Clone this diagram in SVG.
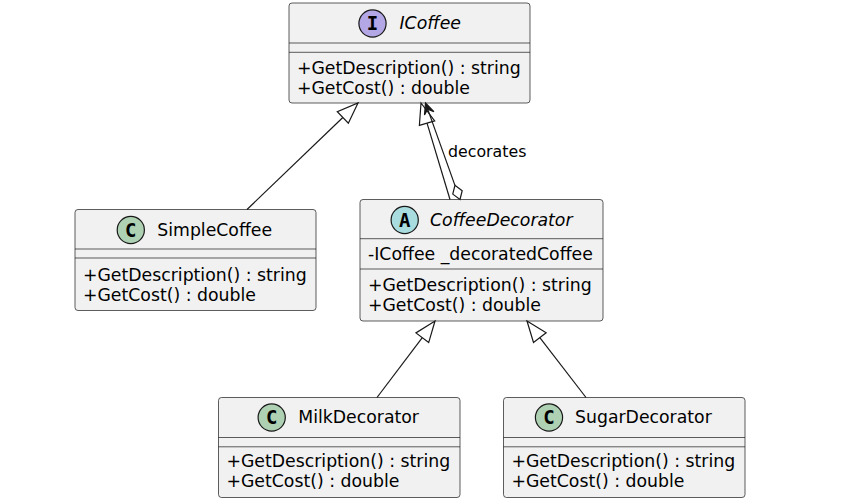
<svg xmlns="http://www.w3.org/2000/svg" width="856" height="503" viewBox="0 0 856 503">
  <style>
    .box { fill: #F1F1F1; stroke: #181818; stroke-width: 0.7; }
    .sep { stroke: #181818; stroke-width: 0.7; }
    .name { font-family: "DejaVu Sans", sans-serif; font-size: 17.3px; fill: #000000; }
    .abs { font-style: italic; }
    .mem { font-family: "DejaVu Sans", sans-serif; font-size: 17.3px; fill: #000000; }
    .badge { stroke: #181818; stroke-width: 1.2; }
    .letter { font-family: "DejaVu Sans Mono", monospace; font-weight: bold; font-size: 19px; text-anchor: middle; fill: #000000; }
    .edge { fill: none; stroke: #181818; stroke-width: 1.2; }
    .tri { fill: #FFFFFF; stroke: #181818; stroke-width: 1.2; }
    .head { fill: #181818; stroke: #181818; stroke-width: 1.2; }
    .lbl { font-family: "DejaVu Sans", sans-serif; font-size: 15.8px; fill: #000000; }
  </style>
  <rect width="856" height="503" fill="#FFFFFF"/>

  <!-- interface ICoffee -->
  <g id="ICoffee">
    <rect class="box" x="289" y="3" width="241" height="100" rx="3"/>
    <circle class="badge" cx="372.5" cy="23.5" r="13.6" fill="#B4A7E5"/>
    <text class="letter" x="372.5" y="30">I</text>
    <text class="name abs" x="399.5" y="28.5">ICoffee</text>
    <line class="sep" x1="289" y1="43" x2="530" y2="43"/>
    <line class="sep" x1="289" y1="52.3" x2="530" y2="52.3"/>
    <text class="mem" x="297" y="74">+GetDescription() : string</text>
    <text class="mem" x="297" y="94">+GetCost() : double</text>
  </g>

  <!-- class SimpleCoffee -->
  <g id="SimpleCoffee">
    <rect class="box" x="75" y="209.5" width="241" height="101" rx="3"/>
    <circle class="badge" cx="130.8" cy="230" r="13.6" fill="#ADD1B2"/>
    <text class="letter" x="130.8" y="236.5">C</text>
    <text class="name" x="157.3" y="235.5">SimpleCoffee</text>
    <line class="sep" x1="75" y1="249" x2="316" y2="249"/>
    <line class="sep" x1="75" y1="258" x2="316" y2="258"/>
    <text class="mem" x="83" y="280.5">+GetDescription() : string</text>
    <text class="mem" x="83" y="300.5">+GetCost() : double</text>
  </g>

  <!-- abstract class CoffeeDecorator -->
  <g id="CoffeeDecorator">
    <rect class="box" x="360" y="199.5" width="243" height="121.5" rx="3"/>
    <circle class="badge" cx="404.7" cy="220" r="13.6" fill="#A9DCDF"/>
    <text class="letter" x="404.7" y="226.5">A</text>
    <text class="name abs" x="430" y="225.5">CoffeeDecorator</text>
    <line class="sep" x1="360" y1="238.7" x2="603" y2="238.7"/>
    <text class="mem" x="368" y="260">-ICoffee _decoratedCoffee</text>
    <line class="sep" x1="360" y1="269" x2="603" y2="269"/>
    <text class="mem" x="368" y="290.5">+GetDescription() : string</text>
    <text class="mem" x="368" y="310.5">+GetCost() : double</text>
  </g>

  <!-- class MilkDecorator -->
  <g id="MilkDecorator">
    <rect class="box" x="218.5" y="397.5" width="241.5" height="100" rx="3"/>
    <circle class="badge" cx="271.7" cy="417.5" r="13.6" fill="#ADD1B2"/>
    <text class="letter" x="271.7" y="424">C</text>
    <text class="name" x="298.3" y="422.5">MilkDecorator</text>
    <line class="sep" x1="218.5" y1="437.5" x2="460" y2="437.5"/>
    <line class="sep" x1="218.5" y1="446.8" x2="460" y2="446.8"/>
    <text class="mem" x="226.5" y="467">+GetDescription() : string</text>
    <text class="mem" x="226.5" y="487">+GetCost() : double</text>
  </g>

  <!-- class SugarDecorator -->
  <g id="SugarDecorator">
    <rect class="box" x="503.5" y="397.5" width="241.5" height="100" rx="3"/>
    <circle class="badge" cx="549" cy="417.5" r="13.6" fill="#ADD1B2"/>
    <text class="letter" x="549" y="424">C</text>
    <text class="name" x="575" y="422.5">SugarDecorator</text>
    <line class="sep" x1="503.5" y1="437.5" x2="745" y2="437.5"/>
    <line class="sep" x1="503.5" y1="446.8" x2="745" y2="446.8"/>
    <text class="mem" x="511.5" y="467">+GetDescription() : string</text>
    <text class="mem" x="511.5" y="487">+GetCost() : double</text>
  </g>

  <!-- relations -->
  <g id="connectors">
    <!-- SimpleCoffee implements ICoffee -->
    <line class="edge" x1="247" y1="209.5" x2="342.82" y2="117.5"/>
    <polygon class="tri" points="358,103 348.34,123.28 337.3,111.72"/>

    <!-- CoffeeDecorator implements ICoffee -->
    <line class="edge" x1="450" y1="199.5" x2="427.04" y2="123.11"/>
    <polygon class="tri" points="421,103 434.7,120.81 419.38,125.41"/>

    <!-- CoffeeDecorator aggregates ICoffee : decorates -->
    <line class="edge" x1="454.95" y1="185.38" x2="427.69" y2="109.12"/>
    <polygon class="tri" points="460,199.5 462.19,190.76 454.95,185.38 452.77,194.12"/>
    <polygon class="head" points="425.5,103 433.91,111.68 427.69,109.12 424.49,115.04"/>
    <text class="lbl" x="448" y="157">decorates</text>

    <!-- MilkDecorator extends CoffeeDecorator -->
    <line class="edge" x1="377" y1="397.5" x2="422.31" y2="337.73"/>
    <polygon class="tri" points="435,321 428.69,342.57 415.94,332.9"/>

    <!-- SugarDecorator extends CoffeeDecorator -->
    <line class="edge" x1="586" y1="397.5" x2="539.83" y2="337.63"/>
    <polygon class="tri" points="527,321 546.16,332.74 533.49,342.52"/>
  </g>
</svg>
